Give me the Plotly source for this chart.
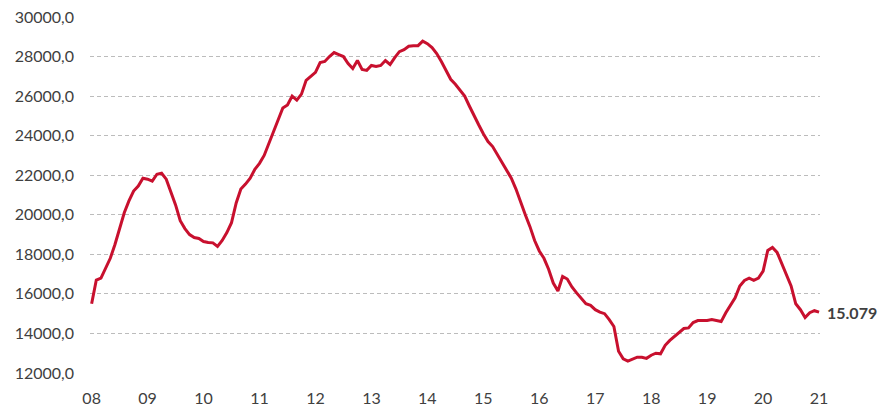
import plotly.graph_objects as go

# Year tick labels (one per January, 2008..2021)
year_labels = ["08", "09", "10", "11", "12", "13", "14", "15", "16", "17", "18", "19", "20", "21"]

# Monthly values, Jan 2008 .. Jan 2021
v2008 = [15500, 16700, 16800, 17300, 17800, 18500, 19300, 20100, 20700, 21200, 21450, 21850]
v2009 = [21800, 21700, 22050, 22100, 21800, 21200, 20500, 19700, 19300, 19000, 18850, 18800]
v2010 = [18650, 18600, 18580, 18400, 18700, 19100, 19600, 20600, 21300, 21550, 21850, 22300]
v2011 = [22600, 23000, 23600, 24200, 24800, 25400, 25550, 26000, 25800, 26100, 26800, 27000]
v2012 = [27200, 27700, 27750, 28000, 28200, 28100, 28000, 27650, 27400, 27800, 27350, 27300]
v2013 = [27550, 27500, 27550, 27800, 27600, 27950, 28250, 28350, 28520, 28550, 28550, 28780]
v2014 = [28650, 28450, 28150, 27750, 27300, 26850, 26600, 26300, 26000, 25500, 25000, 24550]
v2015 = [24100, 23700, 23450, 23050, 22650, 22300, 21850, 21300, 20600, 20000, 19400, 18700]
v2016 = [18170, 17800, 17250, 16550, 16150, 16880, 16750, 16350, 16050, 15750, 15500, 15420]
v2017 = [15200, 15080, 15000, 14700, 14350, 13100, 12720, 12600, 12720, 12800, 12800, 12740]
v2018 = [12900, 13000, 12970, 13400, 13650, 13850, 14050, 14250, 14280, 14550, 14650, 14650]
v2019 = [14650, 14700, 14650, 14600, 15050, 15400, 15800, 16400, 16680, 16800, 16680, 16800]
v2020 = [17150, 18200, 18350, 18100, 17500, 16900, 16400, 15500, 15200, 14800, 15050, 15150]
v2021 = [15079]

values = (v2008 + v2009 + v2010 + v2011 + v2012 + v2013 + v2014 + v2015 +
          v2016 + v2017 + v2018 + v2019 + v2020 + v2021)
months = list(range(len(values)))
last_label = "15.079"

y_ticks = list(range(12000, 30001, 2000))
y_ticktext = [f"{t},0" for t in y_ticks]

RED = "#C8102E"
TXT = "#404040"
FONT = "Lato"

fig = go.Figure()
fig.add_trace(go.Scatter(
    x=months, y=values, mode="lines",
    line=dict(color=RED, width=3, shape="linear"),
    hoverinfo="skip", showlegend=False,
))

fig.add_annotation(
    x=months[-1], y=values[-1], text=f"<b>{last_label}</b>",
    showarrow=False, xanchor="left", yanchor="middle", xshift=6,
    font=dict(family=FONT, size=16, color=TXT),
)

fig.update_layout(
    width=879, height=406,
    margin=dict(l=90, r=59, t=17, b=33),
    paper_bgcolor="white", plot_bgcolor="white",
    font=dict(family=FONT, size=16, color=TXT),
    xaxis=dict(
        range=[-0.35, 156.2],
        tickvals=[i * 12 for i in range(len(year_labels))],
        ticktext=year_labels,
        showgrid=False, zeroline=False, showline=False,
        ticks="", tickfont=dict(family=FONT, size=16, color=TXT),
        ticklabelstandoff=14, automargin=False,
        fixedrange=True,
    ),
    yaxis=dict(
        range=[12000, 30000],
        tickvals=y_ticks, ticktext=y_ticktext,
        showgrid=True, gridcolor="#BCBCBC", griddash="4px,3px", gridwidth=1,
        zeroline=False, showline=False, ticks="",
        tickfont=dict(family=FONT, size=16, color=TXT),
        ticklabelstandoff=15, automargin=False,
        fixedrange=True,
    ),
)

fig.write_html(
    "out.html",
    config={"displayModeBar": False},
    post_script="document.body.style.margin='0';",
)
